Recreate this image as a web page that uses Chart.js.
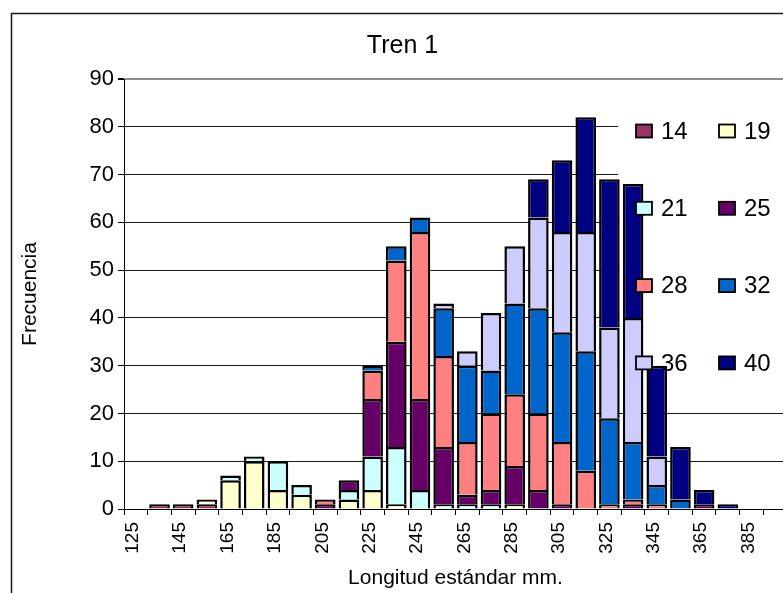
<!DOCTYPE html>
<html>
<head>
<meta charset="utf-8">
<script src="https://cdn.jsdelivr.net/npm/chart.js@4"></script>
<style>
  html, body { margin: 0; padding: 0; background: #fff; overflow: hidden; }
  canvas { display: block; }
</style>
</head>
<body>
<canvas id="chart" width="820" height="593"></canvas>
<script>
// Length classes (mm), one bar per class
const lengthClasses = ['125','135','145','155','165','175','185','195','205','215','225','235','245','255',
                       '265','275','285','295','305','315','325','335','345','355','365','375','385','395'];

// Series (sampling groups) and their frequencies per length class
const seriesNames = ['14', '19', '21', '25', '28', '32', '36', '40'];
const s14 = [0,1,1,1,0,0,0,0,0,0,0,0,0,0,0,0,0,0,0,0,0,0,0,0,0,0,0,0];
const s19 = [0,0,0,1,6,10,4,3,0,2,4,1,0,0,0,0,1,0,0,0,0,0,0,0,0,0,0,0];
const s21 = [0,0,0,0,1,1,6,2,0,2,7,12,4,1,1,1,0,0,0,0,0,0,0,0,0,0,0,0];
const s25 = [0,0,0,0,0,0,0,0,1,2,12,22,19,12,2,3,8,4,1,0,0,1,0,0,1,0,0,0];
const s28 = [0,0,0,0,0,0,0,0,1,0,6,17,35,19,11,16,15,16,13,8,1,1,1,0,0,0,0,0];
const s32 = [0,0,0,0,0,0,0,0,0,0,1,3,3,10,16,9,19,22,23,25,18,12,4,2,0,0,0,0];
const s36 = [0,0,0,0,0,0,0,0,0,0,0,0,0,1,3,12,12,19,21,25,19,26,6,0,0,0,0,0];
const s40 = [0,0,0,0,0,0,0,0,0,0,0,0,0,0,0,0,0,8,15,24,31,28,19,11,3,1,0,0];

// y axis ticks
const yTicks = [0, 10, 20, 30, 40, 50, 60, 70, 80, 90];

const seriesValues = [s14, s19, s21, s25, s28, s32, s36, s40];
const seriesColors = ['#993366', '#FFFFCC', '#CCFFFF', '#660066', '#FF8080', '#0066CC', '#CCCCFF', '#000080'];

const FONT = '"Liberation Sans", Arial, sans-serif';

// White page with the chart frame
const framePlugin = {
  id: 'frame',
  beforeDraw(chart) {
    const ctx = chart.ctx;
    ctx.save();
    ctx.fillStyle = '#fff';
    ctx.fillRect(0, 0, chart.width, chart.height);
    ctx.strokeStyle = '#1a1a1a';
    ctx.lineWidth = 1.5;
    ctx.strokeRect(11.5, 13.5, chart.width + 50, chart.height + 50);
    ctx.restore();
  }
};

// Two-column legend sitting over the right part of the plot
const gridLegend = {
  id: 'gridLegend',
  beforeDatasetsDraw(chart) {
    const ctx = chart.ctx;
    ctx.save();
    ctx.fillStyle = '#fff';
    ctx.fillRect(618, 100, chart.width - 618, 296);
    ctx.restore();
  },
  afterDraw(chart) {
    const ctx = chart.ctx;
    const x0 = 636, colStep = 83, y0 = 131, rowStep = 77.3;
    ctx.save();
    ctx.font = '24px ' + FONT;
    ctx.textBaseline = 'middle';
    ctx.textAlign = 'left';
    chart.data.datasets.forEach((ds, i) => {
      const x = x0 + (i % 2) * colStep;
      const y = y0 + Math.floor(i / 2) * rowStep;
      ctx.fillStyle = ds.backgroundColor;
      ctx.fillRect(x, y - 6.5, 16, 13);
      ctx.strokeStyle = '#000';
      ctx.lineWidth = 1.8;
      ctx.strokeRect(x, y - 6.5, 16, 13);
      ctx.fillStyle = '#000';
      ctx.fillText(ds.label, x + 25, y + 1);
    });
    ctx.restore();
  }
};

const datasets = seriesNames.map((name, i) => ({
  label: name,
  data: seriesValues[i].map(v => (v ? v : null)),
  backgroundColor: seriesColors[i],
  borderColor: '#000',
  borderWidth: 2.5,
  barPercentage: 0.87,
  categoryPercentage: 1.0
}));

new Chart(document.getElementById('chart'), {
  type: 'bar',
  data: { labels: lengthClasses, datasets },
  plugins: [framePlugin, gridLegend],
  options: {
    responsive: false,
    animation: false,
    devicePixelRatio: 1,
    layout: { padding: { left: 18, right: 33, top: 0, bottom: 0 } },
    plugins: {
      legend: { display: false },
      tooltip: { enabled: false },
      title: {
        display: true,
        text: 'Tren 1',
        color: '#000',
        font: { family: FONT, size: 25, weight: 'normal' },
        padding: { top: 31, bottom: 18 }
      }
    },
    scales: {
      x: {
        stacked: true,
        grid: {
          display: true,
          drawOnChartArea: false,
          drawTicks: true,
          tickLength: 6,
          tickColor: '#000',
          offset: true
        },
        border: { display: true, color: '#000', width: 1 },
        ticks: {
          autoSkip: false,
          minRotation: 90,
          maxRotation: 90,
          padding: 7,
          labelOffset: -3,
          color: '#000',
          font: { family: FONT, size: 19 },
          callback(value, index) {
            return index % 2 === 0 ? this.getLabelForValue(value) : '';
          }
        },
        title: {
          display: true,
          text: 'Longitud estándar mm.',
          color: '#000',
          font: { family: FONT, size: 21 },
          padding: { top: 0, bottom: 2.4 }
        },
        afterFit(scale) { scale.height = 84; }
      },
      y: {
        stacked: true,
        min: yTicks[0],
        max: yTicks[yTicks.length - 1],
        afterBuildTicks(scale) { scale.ticks = yTicks.map(v => ({ value: v })); },
        grid: {
          color: ctx => (ctx.tick && ctx.tick.value === 90 ? '#8c8c8c' : '#1a1a1a'),
          lineWidth: ctx => (ctx.tick && ctx.tick.value === 90 ? 2 : 1),
          drawTicks: true,
          tickLength: 6,
          tickColor: '#000'
        },
        border: { display: true, color: '#000', width: 1 },
        ticks: {
          padding: 4,
          color: '#000',
          font: { family: FONT, size: 22 }
        },
        title: {
          display: true,
          text: 'Frecuencia',
          color: '#000',
          font: { family: FONT, size: 21 },
          padding: { top: 0, bottom: 0 }
        },
        afterFit(scale) { scale.width = 106; }
      }
    }
  }
});
</script>
</body>
</html>
